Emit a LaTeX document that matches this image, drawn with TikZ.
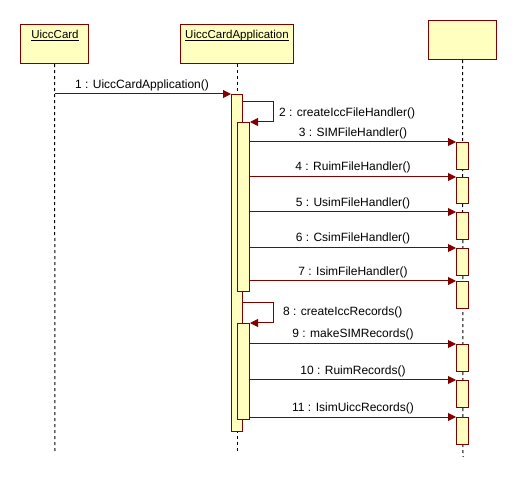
\documentclass[tikz,border=0pt]{standalone}
\usepackage{fontspec}
\setmainfont{Liberation Sans}
\usetikzlibrary{arrows.meta}
\definecolor{umlred}{RGB}{128,0,0}
\definecolor{umlfill}{RGB}{255,255,192}
\tikzset{
  objbox/.style={draw=umlred, fill=umlfill, line width=1.1pt, inner sep=0pt, anchor=north west},
  bar/.style={draw=umlred, fill=umlfill, line width=1pt, inner sep=0pt, minimum width=12pt, anchor=north west},
  lifeline/.style={black, line width=1pt, dash pattern=on 3pt off 3pt},
  msg/.style={umlred, line width=1pt, -{Triangle[length=8pt,width=8pt]}},
  msglabel/.style={font=\fontsize{12}{14}\selectfont, inner sep=0pt, text=black},
  hdr/.style={font=\fontsize{11.5}{13}\selectfont, inner sep=0pt, text=black, anchor=base},
  uline/.style={black, line width=0.8pt}
}
\begin{document}
\begin{tikzpicture}[x=1pt,y=-1pt]
\useasboundingbox (0,0) rectangle (517,478);
% object boxes
\node[objbox, minimum width=68pt, minimum height=39pt] (o1) at (20,24) {};
\node[objbox, minimum width=113pt, minimum height=39pt] (o2) at (180,24) {};
\node[objbox, minimum width=68pt, minimum height=39pt] (o3) at (428,20) {};
\node[hdr] (h1) at (55,39) {UiccCard};
\node[hdr] (h2) at (237,39) {UiccCardApplication};
\draw[uline] ([yshift=-1.8pt]h1.base west) -- ([yshift=-1.8pt]h1.base east);
\draw[uline] ([yshift=-1.8pt]h2.base west) -- ([yshift=-1.8pt]h2.base east);
% lifelines
\coordinate (e1) at (55,451);
\coordinate (e2) at (237,451);
\coordinate (e3) at (463,457);
\draw[lifeline] (o1.south) -- (e1);
\draw[lifeline] (o2.south -| e2) -- (e2);
\draw[lifeline] (o3.south) -- (e3);
% activation bars on application
\node[bar, minimum width=11pt, minimum height=337pt] (a1) at (231,94) {};
\node[bar, minimum height=169pt] (a2) at (237,122) {};
\node[bar, minimum height=96pt] (a3) at (237,323) {};
% target bars
\node[bar, minimum height=27pt] (t3) at (456,142) {};
\node[bar, minimum height=26pt] (t4) at (456,177) {};
\node[bar, minimum height=27pt] (t5) at (456,212) {};
\node[bar, minimum height=27pt] (t6) at (456,248) {};
\node[bar, minimum height=27pt] (t7) at (456,281) {};
\node[bar, minimum height=27pt] (t9) at (456,344) {};
\node[bar, minimum height=27pt] (t10) at (456,380) {};
\node[bar, minimum height=27pt] (t11) at (456,417) {};
% message 1
\coordinate (m1s) at (55,94);
\draw[msg] (m1s) -- (a1.north west);
\node[msglabel] (l1) at (142,85) {1 : UiccCardApplication()};
% self message 2
\coordinate (s2) at (242.5,102);
\draw[msg] (s2) -- (273,102) |- (a2.north east);
\node[msglabel, anchor=west] (l2) at (279,113) {2 : createIccFileHandler()};
% messages 3-7
\foreach \t/\y/\txt in {t3/133/3 : SIMFileHandler(), t4/167/4 : RuimFileHandler(), t5/203/5 : UsimFileHandler(), t6/238/6 : CsimFileHandler(), t7/272/7 : IsimFileHandler()}{
  \draw[msg] (a2.east |- \t.north west) -- (\t.north west);
  \node[msglabel] (l\t) at (353,\y) {\txt};
}
% self message 8
\coordinate (s8) at (242.5,303);
\draw[msg] (s8) -- (273,303) |- (a3.north east);
\node[msglabel, anchor=west] (l8) at (283,312) {8 : createIccRecords()};
% messages 9-11
\foreach \t/\y/\txt in {t9/334/9 : makeSIMRecords(), t10/371/10 : RuimRecords(), t11/408/11 : IsimUiccRecords()}{
  \draw[msg] (a3.east |- \t.north west) -- (\t.north west);
  \node[msglabel] (l\t) at (353,\y) {\txt};
}
\end{tikzpicture}
\end{document}
